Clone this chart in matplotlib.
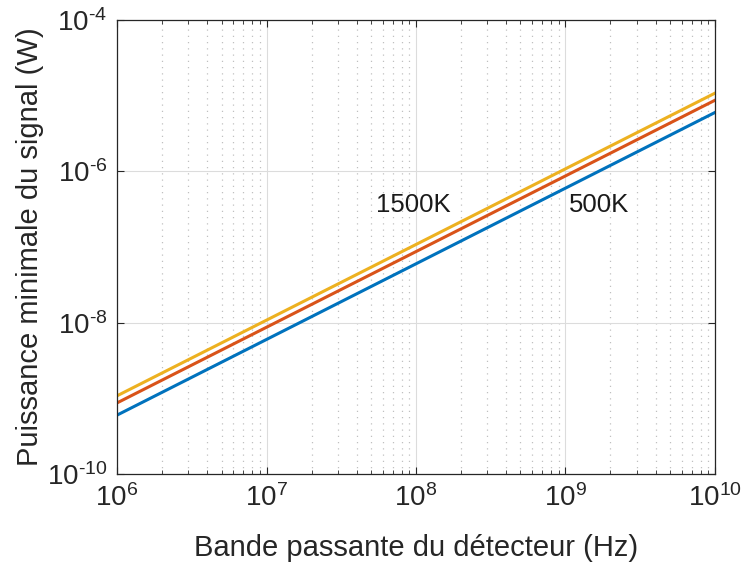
import math
import matplotlib
matplotlib.use('Agg')
import matplotlib.pyplot as plt
import matplotlib.ticker as mticker

plt.rcParams['font.family'] = ['Liberation Sans', 'DejaVu Sans']
plt.rcParams['mathtext.fontset'] = 'custom'
plt.rcParams['mathtext.rm'] = 'Liberation Sans'
plt.rcParams['mathtext.it'] = 'Liberation Sans'

# bande passante (Hz) et puissance minimale (W)
bandwidth = [1e6, 1e7, 1e8, 1e9, 1e10]
p_blue = [6.0e-10, 6.0e-9, 6.0e-8, 6.0e-7, 6.0e-6]
p_red = [8.7e-10, 8.7e-9, 8.7e-8, 8.7e-7, 8.7e-6]
p_yellow = [1.08e-9, 1.08e-8, 1.08e-7, 1.08e-6, 1.08e-5]
series = [p_blue, p_red, p_yellow]
colors = ['#0072BD', '#D95319', '#EDB120']

x_ticks = [1e6, 1e7, 1e8, 1e9, 1e10]
y_ticks = [1e-10, 1e-8, 1e-6, 1e-4]
annotations = [("1500K", 5.4e7, 3.6e-7), ("500K", 1.05e9, 3.6e-7)]


def pow_label(v):
    e = round(math.log10(v))
    if e < 0:
        return r'$10^{\text{-%d}}$' % (-e)
    return r'$10^{%d}$' % e


fig = plt.figure(figsize=(7.43, 5.70), dpi=100)
ax = fig.add_axes([0.1575, 0.1684, 0.8048, 0.7965])

for ys, c in zip(series, colors):
    ax.plot(bandwidth, ys, color=c, linewidth=2.2)

ax.set_xscale('log')
ax.set_yscale('log')
ax.set_xlim(1e6, 1e10)
ax.set_ylim(1e-10, 1e-4)

ax.set_xticks(x_ticks)
ax.set_xticklabels([pow_label(v) for v in x_ticks])
ax.set_yticks(y_ticks)
ax.set_yticklabels([pow_label(v) for v in y_ticks])
ax.xaxis.set_minor_locator(mticker.LogLocator(base=10, subs=range(2, 10), numticks=20))
ax.xaxis.set_minor_formatter(mticker.NullFormatter())
ax.yaxis.set_minor_locator(mticker.NullLocator())

ax.grid(True, which='major', color='#dcdcdc', linewidth=0.8, linestyle='-')
ax.grid(True, which='minor', axis='x', color='#c0c0c0', linewidth=0.9, linestyle=(0, (1, 4)))
ax.set_axisbelow(True)

ax.tick_params(which='both', direction='in', top=True, right=True, colors='#262626',
               labelsize=20, pad=7)
ax.tick_params(which='major', length=5)
ax.tick_params(which='minor', length=3)
for s in ax.spines.values():
    s.set_color('#262626')
    s.set_linewidth(0.9)

for txt, x, y in annotations:
    ax.text(x, y, txt, fontsize=18.5, color='#1a1a1a', va='center', ha='left')

ax.set_xlabel('Bande passante du détecteur (Hz)', fontsize=21, color='#262626', labelpad=16)
ax.set_ylabel('Puissance minimale du signal (W)', fontsize=21, color='#262626', labelpad=2)

fig.savefig('out.png', dpi=100)
